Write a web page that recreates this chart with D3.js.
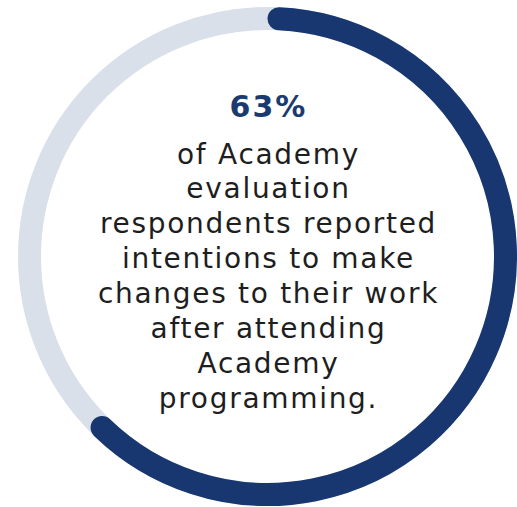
<!DOCTYPE html>
<html>
<head>
<meta charset="utf-8">
<script src="https://cdn.jsdelivr.net/npm/d3@7"></script>
<style>
  html, body { margin: 0; padding: 0; background: #fff; }
  svg { display: block; }
</style>
</head>
<body>
<svg id="chart"></svg>
<script>
// share of respondents (value) and the caption lines
const shareValue = [0.63];
const headline = ['63%'];
const captionLines = [
  'of Academy',
  'evaluation',
  'respondents reported',
  'intentions to make',
  'changes to their work',
  'after attending',
  'Academy',
  'programming.'
];

const W = 517, H = 507;
const cx = 267.5, cy = 256.5;
const R = 238;          // centerline radius of the ring
const ringW = 23;

const svg = d3.select('#chart').attr('width', W).attr('height', H);
const g = svg.append('g').attr('transform', `translate(${cx},${cy})`);

// background track
g.append('circle')
  .attr('r', R)
  .attr('fill', 'none')
  .attr('stroke', '#d9e0ea')
  .attr('stroke-width', ringW);

// value arc, clockwise from 12 o'clock; round caps kept inside the value span
const angle = d3.scaleLinear().domain([0, 1]).range([0, 2 * Math.PI]);
const capOffset = (ringW / 2) / R;
function openArc(v) {
  const p = d3.path();
  const a0 = capOffset - Math.PI / 2;
  const a1 = angle(v) - capOffset - Math.PI / 2;
  p.moveTo(R * Math.cos(a0), R * Math.sin(a0));
  p.arc(0, 0, R, a0, a1, false);
  return p.toString();
}

g.selectAll('path.value')
  .data(shareValue)
  .enter()
  .append('path')
  .attr('class', 'value')
  .attr('d', d => openArc(d))
  .attr('fill', 'none')
  .attr('stroke', '#18366f')
  .attr('stroke-width', ringW)
  .attr('stroke-linecap', 'round');

// headline number
g.append('text')
  .attr('x', 1)
  .attr('y', 117 - cy)
  .attr('text-anchor', 'middle')
  .attr('font-family', 'DejaVu Sans, sans-serif')
  .attr('font-weight', 'bold')
  .attr('font-size', 30)
  .attr('letter-spacing', 2)
  .attr('fill', '#1b3a70')
  .text(headline[0]);

// caption
const lineY = d3.scaleLinear().domain([0, captionLines.length - 1]).range([163.5, 408]);
g.selectAll('text.cap')
  .data(captionLines)
  .enter()
  .append('text')
  .attr('class', 'cap')
  .attr('x', 1)
  .attr('y', (d, i) => lineY(i) - cy)
  .attr('text-anchor', 'middle')
  .attr('font-family', 'DejaVu Sans, sans-serif')
  .attr('font-size', 28)
  .attr('letter-spacing', 1.7)
  .attr('fill', '#1e1e1e')
  .text(d => d);
</script>
</body>
</html>
